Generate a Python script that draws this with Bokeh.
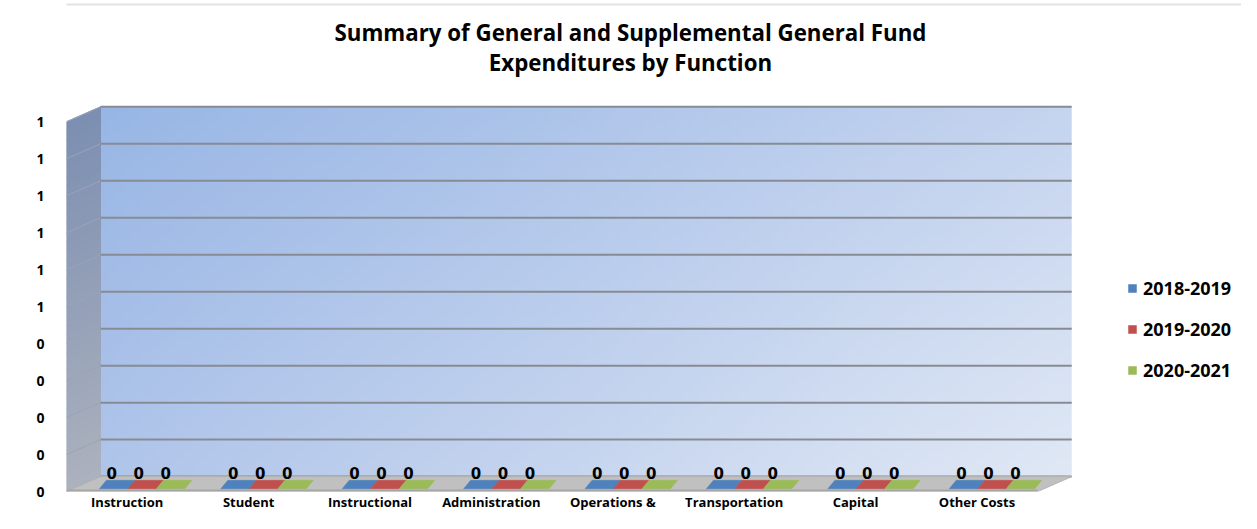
import numpy as np
from bokeh.plotting import figure
from bokeh.models import Range1d, FixedTicker, Legend, LegendItem, Label, BoxAnnotation
from bokeh.embed import file_html
from bokeh.resources import INLINE
from bokeh.core.properties import value

# ---------------- data ----------------
categories = ["Instruction", "Student", "Instructional", "Administration",
              "Operations &", "Transportation", "Capital", "Other Costs"]
series_names = ["2018-2019", "2019-2020", "2020-2021"]
values_2018_2019 = [0, 0, 0, 0, 0, 0, 0, 0]
values_2019_2020 = [0, 0, 0, 0, 0, 0, 0, 0]
values_2020_2021 = [0, 0, 0, 0, 0, 0, 0, 0]
y_ticks = [0.0, 0.1, 0.2, 0.3, 0.4, 0.5, 0.6, 0.7, 0.8, 0.9, 1.0]
y_tick_labels = ["0", "0", "0", "0", "0", "1", "1", "1", "1", "1", "1"]
title_lines = ["Summary of General and Supplemental General Fund",
               "Expenditures by Function"]
series_colors = ["#4f81bd", "#c0504d", "#9bbb59"]
series_values = [values_2018_2019, values_2019_2020, values_2020_2021]

# ---------------- geometry (pixels) ----------------
W, H = 1241, 513
FL, FR, FB = 66, 1241, 494
WALL_TOP = 107                     # canvas y of the back-wall top
fw, fh = FR - FL, FB               # frame spans the full height above the x axis
CW = 121.4                         # px per category on the front plane
DXP, DYP = 34.0, 15.0              # depth offset of the back wall
WALL_H = FB - WALL_TOP             # px height of the back wall (incl. depth)
PX_PER_Y = WALL_H - DYP
FRONT_W = 8 * CW
BACK_R = FRONT_W + DXP


def dx(px):
    return px / CW


def dyy(py):
    return py / PX_PER_Y


DXu = DXP / CW
DYu = DYP / PX_PER_Y

p = figure(width=W, height=H, x_range=Range1d(0, dx(fw)),
           y_range=Range1d(0, dyy(fh)), output_backend="svg",
           toolbar_location=None, min_border_left=FL, min_border_right=0,
           min_border_top=0, min_border_bottom=H - FB)
p.outline_line_color = None
p.background_fill_color = "white"
p.border_fill_color = "white"
p.xgrid.visible = False
p.ygrid.visible = False

# back wall gradient
nx, ny = 120, 60
u = np.linspace(0, 1, nx)[None, :]
t = np.linspace(0, 1, ny)[:, None]  # 0 bottom, 1 top
tl = np.array([152, 182, 229]); tr = np.array([197, 212, 239])
bl = np.array([176, 197, 234]); br = np.array([224, 232, 245])
img = np.zeros((ny, nx), dtype=np.uint32)
view = img.view(dtype=np.uint8).reshape((ny, nx, 4))
for c in range(3):
    col = (tl[c] * (1 - u) * t + tr[c] * u * t + bl[c] * (1 - u) * (1 - t) + br[c] * u * (1 - t))
    view[:, :, c] = col.astype(np.uint8)
view[:, :, 3] = 255
p.image_rgba(image=[img], x=dx(DXP), y=dyy(DYP), dw=dx(BACK_R) - dx(DXP), dh=dyy(WALL_H) - dyy(DYP))

# side wall gradient strips
N = 40
sxs, sys, scol = [], [], []
top_c = np.array([124, 143, 178]); bot_c = np.array([172, 178, 190])
for k in range(N):
    t0, t1 = k / N, (k + 1) / N
    h0, h1 = t0 * PX_PER_Y, t1 * PX_PER_Y
    sxs.append([dx(0), dx(DXP), dx(DXP), dx(0)])
    sys.append([dyy(h0), dyy(h0 + DYP), dyy(h1 + DYP), dyy(h1)])
    c = bot_c * (1 - (t0 + t1) / 2) + top_c * (t0 + t1) / 2
    scol.append("#%02x%02x%02x" % tuple(int(v) for v in c))
p.patches(xs=sxs, ys=sys, fill_color=scol, line_color=scol, line_width=1)

# gridlines
p.segment(x0=[dx(DXP)] * len(y_ticks), y0=[dyy(DYP) + v for v in y_ticks],
          x1=[dx(BACK_R)] * len(y_ticks), y1=[dyy(DYP) + v for v in y_ticks],
          line_color="#878b93", line_width=2)
p.segment(x0=[dx(0)] * len(y_ticks), y0=y_ticks,
          x1=[dx(DXP)] * len(y_ticks), y1=[dyy(DYP) + v for v in y_ticks],
          line_color="#9aa4b6", line_width=1)

# floor
p.patch(x=[dx(0), dx(FRONT_W), dx(BACK_R), dx(DXP)], y=[0, 0, dyy(DYP), dyy(DYP)],
        fill_color="#c0c0c0", line_color="#b3b3b3", line_width=1)
p.segment(x0=[dx(0)], y0=[dyy(1)], x1=[dx(FRONT_W)], y1=[dyy(1)], line_color="#a6a6a6", line_width=2)

# bars (3D boxes; zero height -> only the top face is visible)
bw = 28.5 / CW
d0, d1 = 0.19, 0.75
sh0, sh1 = 15.0 / CW, 22.0 / CW   # horizontal shift of front/back edges of bar faces
lab_dx = 11.5 / CW

renderers = []
for s, (vals, col) in enumerate(zip(series_values, series_colors)):
    txs, tys, fl, fr, fbt, ftp, sxx, syy = [], [], [], [], [], [], [], []
    for i, v in enumerate(vals):
        xc = i + 0.5 + (s - 1) * bw
        xl, xr = xc - bw / 2, xc + bw / 2
        fl.append(xl + sh0); fr.append(xr + sh0)
        fbt.append(d0 * DYu); ftp.append(v + d0 * DYu)
        sxx.append([xr + sh0, xr + sh1, xr + sh1, xr + sh0])
        syy.append([d0 * DYu, d1 * DYu, v + d1 * DYu, v + d0 * DYu])
        txs.append([xl + sh0, xr + sh0, xr + sh1, xl + sh1])
        tys.append([v + d0 * DYu, v + d0 * DYu, v + d1 * DYu, v + d1 * DYu])
    p.quad(left=fl, right=fr, bottom=fbt, top=ftp, fill_color=col, line_color=None)
    p.patches(xs=sxx, ys=syy, fill_color=col, line_color=None)
    r = p.patches(xs=txs, ys=tys, fill_color=col, line_color=col, line_width=0.5)
    renderers.append(r)
    p.text(x=[i + 0.5 + (s - 1) * 27.0 / CW + lab_dx for i in range(len(vals))],
           y=[v + d1 * DYu for v in vals],
           text=["%.0f" % v for v in vals], text_font=value("DejaVu Sans"),
           text_font_style="bold", text_font_size="15px", text_color="black",
           text_align="center", text_baseline="middle", y_offset=-7)

# axes
p.yaxis.ticker = FixedTicker(ticks=y_ticks)
p.yaxis.major_label_overrides = {t_: l for t_, l in zip(y_ticks, y_tick_labels)}
p.yaxis.axis_line_color = None
p.yaxis.major_tick_line_color = None
p.yaxis.minor_tick_line_color = None
p.yaxis.major_tick_out = 0
p.yaxis.major_tick_in = 0
p.yaxis.major_label_standoff = 22
p.yaxis.major_label_text_font = "Open Sans"
p.yaxis.major_label_text_font_style = "bold"
p.yaxis.major_label_text_font_size = "14px"
p.yaxis.major_label_text_color = "black"

x_ticks = [i + 0.5 for i in range(len(categories))]
p.xaxis.ticker = FixedTicker(ticks=x_ticks)
p.xaxis.major_label_overrides = {t_: c for t_, c in zip(x_ticks, categories)}
p.xaxis.axis_line_color = None
p.xaxis.major_tick_line_color = None
p.xaxis.minor_tick_line_color = None
p.xaxis.major_tick_out = 0
p.xaxis.major_tick_in = 0
p.xaxis.major_label_standoff = 1
p.xaxis.major_label_text_font = "Open Sans"
p.xaxis.major_label_text_font_style = "bold"
p.xaxis.major_label_text_font_size = "13px"
p.xaxis.major_label_text_color = "black"

# legend
legend = Legend(items=[LegendItem(label=n, renderers=[r]) for n, r in zip(series_names, renderers)],
                location=(1127 - FL, 109), glyph_width=10, glyph_height=10, label_height=24,
                spacing=17, padding=0, margin=0, label_standoff=6,
                border_line_color=None, background_fill_alpha=0,
                label_text_font="Open Sans", label_text_font_style="bold",
                label_text_font_size="18px", label_text_color="black")
p.add_layout(legend)

# chart border (top edge)
p.add_layout(BoxAnnotation(left=8, right=3000, top=4, bottom=3000,
                           left_units="canvas", right_units="canvas",
                           top_units="canvas", bottom_units="canvas",
                           fill_color=None, line_color="#a3a3a3", line_width=2))

# title
for line, yc in zip(title_lines, [32, 62]):
    p.add_layout(Label(x=630, y=yc, x_units="canvas", y_units="canvas", text=line,
                       text_font="Open Sans", text_font_style="bold", text_font_size="22.3px",
                       text_align="center", text_baseline="middle", text_color="black"))

open("out.html", "w").write(file_html(p, INLINE))
